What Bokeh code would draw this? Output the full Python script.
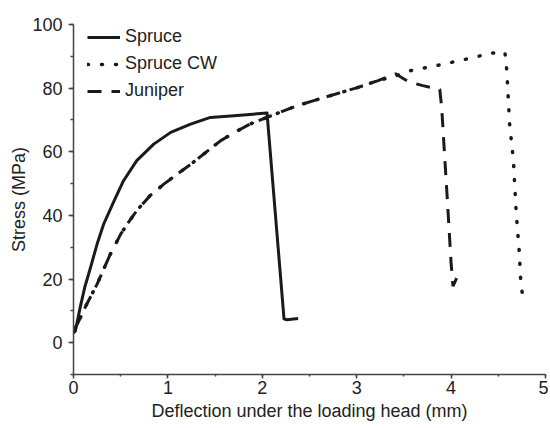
from bokeh.plotting import figure
from bokeh.models import Range1d, SingleIntervalTicker, Legend, LegendItem
from bokeh.embed import file_html
from bokeh.resources import INLINE

# Spruce (solid)
spruce_x = [0, 0.02, 0.07, 0.12, 0.18, 0.25, 0.32, 0.43, 0.53, 0.67, 0.85, 1.03, 1.24,
            1.45, 1.7, 2.05, 2.23, 2.26, 2.38]
spruce_y = [3, 3.7, 11, 17.5, 23.6, 31, 37.3, 44.6, 50.9, 57.2, 62.4, 66.1, 68.7,
            70.8, 71.3, 72.2, 7.5, 7.2, 7.6]

# Spruce compression wood (dotted)
cw_x = [0, 0.04, 0.14, 0.25, 0.39, 0.5, 0.57, 0.67, 0.81, 0.96, 1.1, 1.24, 1.38, 1.56,
        1.72, 1.87, 2.1, 2.37, 2.74, 3.0, 3.22, 3.41, 3.57, 3.85, 4.13, 4.43, 4.57,
        4.59, 4.62, 4.66, 4.69, 4.72, 4.74, 4.77]
cw_y = [4, 5.8, 12.1, 18.4, 27.8, 34.1, 37.3, 41.5, 46.2, 49.9, 53, 56, 59.3, 63.5,
        66.3, 68.7, 71.4, 74.5, 77.8, 80.1, 82.3, 83.8, 85.5, 87.1, 88.9, 91.0, 91.3,
        85.5, 68.7, 57.4, 40.7, 29.4, 18.2, 12.6]

# Juniper (dashed)
jun_x = [0, 0.04, 0.14, 0.25, 0.39, 0.5, 0.57, 0.67, 0.81, 0.96, 1.1, 1.24, 1.38, 1.56,
         1.72, 1.87, 2.1, 2.37, 2.74, 3.0, 3.22, 3.41, 3.55, 3.7, 3.88, 3.9, 3.96,
         4.0, 4.02, 4.08]
jun_y = [4, 5.8, 12.1, 18.4, 27.8, 34.1, 37.3, 41.5, 46.2, 49.9, 53, 56, 59.3, 63.5,
         66.3, 68.7, 71.4, 74.5, 77.8, 80.1, 82.3, 84.5, 82, 80.8, 79.6, 74, 45,
         25, 17.8, 21.7]

labels = ["Spruce", "Spruce CW", "Juniper"]

FONT = "Liberation Sans"
INK = "#1a1a1a"

p = figure(width=548, height=426, x_range=Range1d(0, 5), y_range=Range1d(-10, 100),
           output_backend="svg", toolbar_location=None,
           min_border_left=73, min_border_right=3, min_border_top=24, min_border_bottom=52)
p.outline_line_color = None
p.grid.visible = False
p.background_fill_color = "white"

r1 = p.line(spruce_x, spruce_y, line_color=INK, line_width=3, line_join="round")
r2 = p.line(cw_x, cw_y, line_color=INK, line_width=3.5, line_dash="1 13", line_cap="round")
r3 = p.line(jun_x, jun_y, line_color=INK, line_width=3, line_dash="14 10")

legend = Legend(items=[LegendItem(label=labels[0], renderers=[r1]),
                       LegendItem(label=labels[1], renderers=[r2]),
                       LegendItem(label=labels[2], renderers=[r3])],
                location=(14, 273), padding=0, spacing=6, glyph_width=33, glyph_height=20,
                label_standoff=5, label_text_font=FONT, label_text_font_size="18px",
                label_text_color="#222222", border_line_color=None,
                background_fill_alpha=0)
p.add_layout(legend, "center")

for ax in (p.xaxis[0], p.yaxis[0]):
    ax.axis_line_color = "#444444"
    ax.axis_line_width = 1.5
    ax.major_tick_line_color = "#444444"
    ax.minor_tick_line_color = "#444444"
    ax.major_tick_line_width = 1.5
    ax.minor_tick_line_width = 1.5
    ax.major_tick_in = 0
    ax.minor_tick_in = 0
    ax.major_label_text_font = FONT
    ax.major_label_text_font_size = "18px"
    ax.major_label_text_color = "#222222"
    ax.axis_label_text_font = FONT
    ax.axis_label_text_font_size = "18px"
    ax.axis_label_text_font_style = "normal"
    ax.axis_label_text_color = "#222222"

p.xaxis.ticker = SingleIntervalTicker(interval=1, num_minor_ticks=2)
p.yaxis.ticker = SingleIntervalTicker(interval=20, num_minor_ticks=2)
p.xaxis.major_tick_out = 4
p.xaxis.minor_tick_out = 2
p.xaxis.major_label_standoff = 2
p.xaxis.axis_label_standoff = 4
p.yaxis.major_tick_out = 5
p.yaxis.minor_tick_out = 3
p.yaxis.major_label_standoff = 6
p.yaxis.axis_label_standoff = 0
p.xaxis.axis_label = "Deflection under the loading head (mm)"
p.yaxis.axis_label = "Stress (MPa)"

open("out.html", "w").write(file_html(p, INLINE))
